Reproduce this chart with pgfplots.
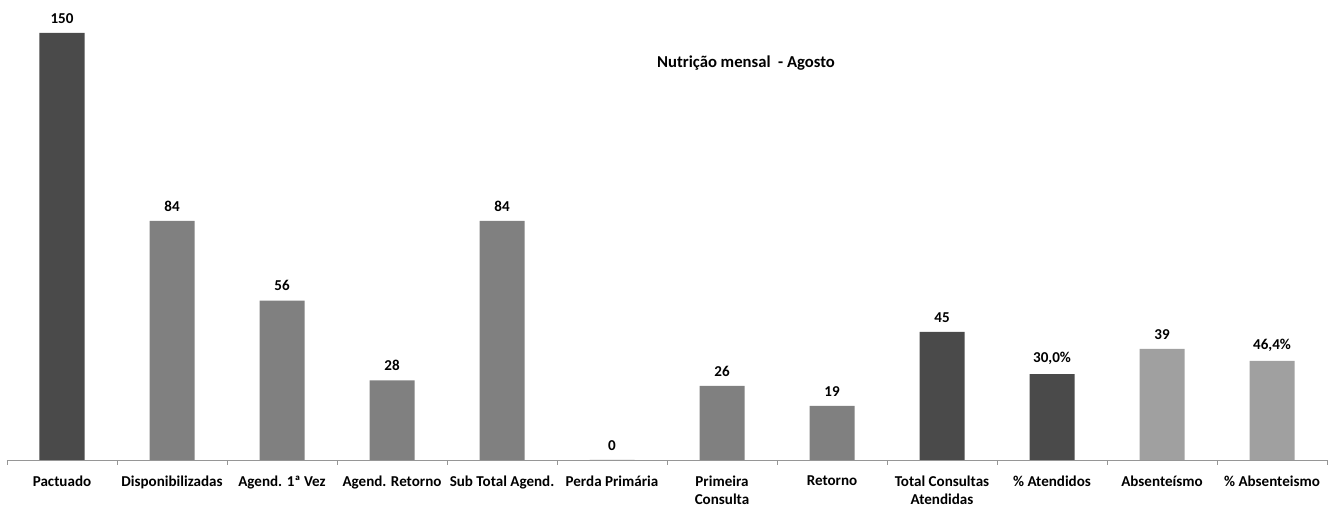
\documentclass[border=0pt]{standalone}
\usepackage{fontspec}
\setmainfont{Carlito}
\usepackage{pgfplots}
\pgfplotsset{compat=1.18}
\definecolor{dk}{RGB}{74,74,74}
\definecolor{md}{RGB}{128,128,128}
\definecolor{lt}{RGB}{160,160,160}
\definecolor{axc}{RGB}{150,150,150}
\begin{document}
\begin{tikzpicture}
\begin{axis}[
  at={(5.25pt,34.5pt)}, anchor=south west,
  scale only axis, width=990pt, height=341.6pt,
  xmin=-0.5, xmax=11.5, ymin=0, ymax=160,
  axis x line=bottom, axis y line=none,
  x axis line style={-, draw=axc},
  ybar, bar width=33.75pt, bar shift=0pt,
  xtick={0,...,11},
  xticklabels={Pactuado\\\strut,Disponibilizadas\\\strut,Agend. 1ª Vez\\\strut,Agend. Retorno\\\strut,Sub Total Agend.\\\strut,Perda Primária\\\strut,Primeira\\Consulta,Retorno\\\strut,Total Consultas\\Atendidas,\% Atendidos\\\strut,Absenteísmo\\\strut,\% Absenteismo\\\strut},
  major tick length=0pt,
  minor xtick={-0.5,0.5,...,11.5},
  minor tick length=3.75pt,
  tick align=outside,
  minor tick style={draw=axc},
  xticklabel style={font=\bfseries\fontsize{11.3}{13.5}\selectfont, align=center, text=black, anchor=north, yshift=-11pt, inner sep=0.5pt, execute at begin node=\strut},
  point meta=explicit symbolic,
  nodes near coords,
  every node near coord/.append style={font=\bfseries\fontsize{11.3}{13}\selectfont, text=black, anchor=south, yshift=3.75pt},
]
\addplot[draw=none, fill=dk] coordinates {(0,150) [150] (8,45) [45] (9,30.2) [30,0\%]};
\addplot[draw=none, fill=md] coordinates {(1,84) [84] (2,56) [56] (3,28) [28] (4,84) [84] (5,0) [0] (6,26) [26] (7,19) [19]};
\addplot[draw=none, fill=lt] coordinates {(10,39) [39] (11,34.8) [46,4\%]};
\end{axis}
\node[font=\bfseries\fontsize{12.5}{14}\selectfont] at (559.5pt,332.5pt) {Nutrição mensal\ \ - Agosto};
\pgfresetboundingbox
\path[use as bounding box] (0,0) rectangle (996pt,379.5pt);
\end{tikzpicture}
\end{document}
